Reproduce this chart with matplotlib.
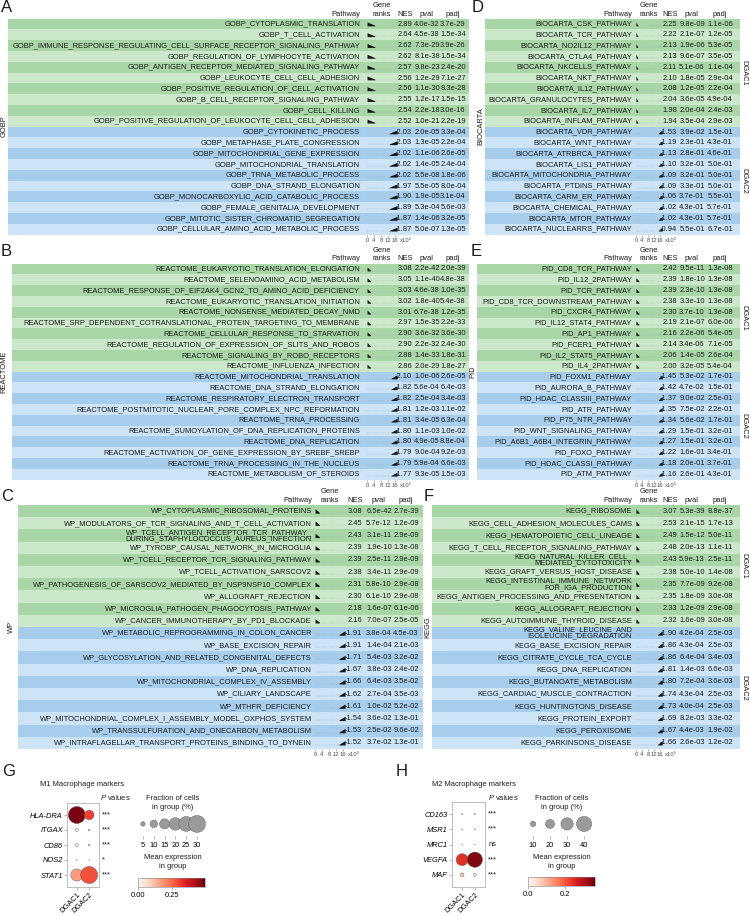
import numpy as np
import matplotlib
matplotlib.use("Agg")
import matplotlib.pyplot as plt
from matplotlib import cm, colors as mcolors

plt.rcParams['font.family'] = ['Liberation Sans', 'DejaVu Sans']
plt.rcParams['mathtext.fontset'] = 'custom'
plt.rcParams['mathtext.it'] = 'Liberation Sans:italic'
plt.rcParams['text.color'] = '#1a1a1a'

# ---------------- data: GSEA tables ----------------
gobp_names = ["GOBP_CYTOPLASMIC_TRANSLATION", "GOBP_T_CELL_ACTIVATION",
              "GOBP_IMMUNE_RESPONSE_REGULATING_CELL_SURFACE_RECEPTOR_SIGNALING_PATHWAY",
              "GOBP_REGULATION_OF_LYMPHOCYTE_ACTIVATION", "GOBP_ANTIGEN_RECEPTOR_MEDIATED_SIGNALING_PATHWAY",
              "GOBP_LEUKOCYTE_CELL_CELL_ADHESION", "GOBP_POSITIVE_REGULATION_OF_CELL_ACTIVATION",
              "GOBP_B_CELL_RECEPTOR_SIGNALING_PATHWAY", "GOBP_CELL_KILLING",
              "GOBP_POSITIVE_REGULATION_OF_LEUKOCYTE_CELL_CELL_ADHESION", "GOBP_CYTOKINETIC_PROCESS",
              "GOBP_METAPHASE_PLATE_CONGRESSION", "GOBP_MITOCHONDRIAL_GENE_EXPRESSION",
              "GOBP_MITOCHONDRIAL_TRANSLATION", "GOBP_TRNA_METABOLIC_PROCESS", "GOBP_DNA_STRAND_ELONGATION",
              "GOBP_MONOCARBOXYLIC_ACID_CATABOLIC_PROCESS", "GOBP_FEMALE_GENITALIA_DEVELOPMENT",
              "GOBP_MITOTIC_SISTER_CHROMATID_SEGREGATION", "GOBP_CELLULAR_AMINO_ACID_METABOLIC_PROCESS"]
gobp_nes = [2.89, 2.64, 2.62, 2.62, 2.57, 2.56, 2.56, 2.55, 2.54, 2.52,
            -2.03, -2.03, -2.02, -2.02, -2.02, -1.97, -1.90, -1.89, -1.87, -1.87]
gobp_pval = [4.0e-32, 4.5e-38, 7.3e-29, 8.1e-38, 9.8e-23, 1.2e-29, 1.1e-30, 1.2e-17, 2.2e-18, 1.0e-21,
             2.0e-05, 1.3e-05, 1.1e-06, 1.4e-05, 5.5e-08, 5.5e-05, 1.9e-05, 5.3e-04, 1.4e-06, 5.0e-07]
gobp_padj = [3.7e-29, 1.5e-34, 3.9e-26, 1.5e-34, 2.4e-20, 7.1e-27, 8.3e-28, 1.5e-15, 3.0e-16, 2.2e-19,
             3.3e-04, 2.2e-04, 2.6e-05, 2.4e-04, 1.8e-06, 8.0e-04, 3.1e-04, 5.6e-03, 3.2e-05, 1.3e-05]

react_names = ["REACTOME_EUKARYOTIC_TRANSLATION_ELONGATION", "REACTOME_SELENOAMINO_ACID_METABOLISM",
               "REACTOME_RESPONSE_OF_EIF2AK4_GCN2_TO_AMINO_ACID_DEFICIENCY",
               "REACTOME_EUKARYOTIC_TRANSLATION_INITIATION", "REACTOME_NONSENSE_MEDIATED_DECAY_NMD",
               "REACTOME_SRP_DEPENDENT_COTRANSLATIONAL_PROTEIN_TARGETING_TO_MEMBRANE",
               "REACTOME_CELLULAR_RESPONSE_TO_STARVATION", "REACTOME_REGULATION_OF_EXPRESSION_OF_SLITS_AND_ROBOS",
               "REACTOME_SIGNALING_BY_ROBO_RECEPTORS", "REACTOME_INFLUENZA_INFECTION",
               "REACTOME_MITOCHONDRIAL_TRANSLATION", "REACTOME_DNA_STRAND_ELONGATION",
               "REACTOME_RESPIRATORY_ELECTRON_TRANSPORT", "REACTOME_POSTMITOTIC_NUCLEAR_PORE_COMPLEX_NPC_REFORMATION",
               "REACTOME_TRNA_PROCESSING", "REACTOME_SUMOYLATION_OF_DNA_REPLICATION_PROTEINS",
               "REACTOME_DNA_REPLICATION", "REACTOME_ACTIVATION_OF_GENE_EXPRESSION_BY_SREBF_SREBP",
               "REACTOME_TRNA_PROCESSING_IN_THE_NUCLEUS", "REACTOME_METABOLISM_OF_STEROIDS"]
react_nes = [3.08, 3.05, 3.03, 3.02, 3.01, 2.97, 2.90, 2.90, 2.88, 2.86,
             -2.10, -1.82, -1.82, -1.81, -1.81, -1.80, -1.80, -1.79, -1.79, -1.77]
react_pval = [2.2e-42, 1.1e-40, 4.6e-38, 1.8e-40, 6.7e-38, 1.5e-35, 3.6e-32, 2.2e-32, 1.4e-33, 2.0e-29,
              1.0e-06, 5.6e-04, 2.5e-04, 1.2e-03, 3.4e-05, 1.1e-03, 4.9e-05, 9.0e-04, 5.9e-04, 9.3e-05]
react_padj = [2.0e-39, 4.8e-38, 1.0e-35, 5.4e-38, 1.2e-35, 2.2e-33, 3.6e-30, 2.4e-30, 1.8e-31, 1.8e-27,
              2.6e-05, 6.4e-03, 3.4e-03, 1.1e-02, 6.3e-04, 1.0e-02, 8.8e-04, 9.2e-03, 6.6e-03, 1.5e-03]

wp_names = ["WP_CYTOPLASMIC_RIBOSOMAL_PROTEINS", "WP_MODULATORS_OF_TCR_SIGNALING_AND_T_CELL_ACTIVATION",
            "WP_TCELL_ANTIGEN_RECEPTOR_TCR_PATHWAY_\nDURING_STAPHYLOCOCCUS_AUREUS_INFECTION",
            "WP_TYROBP_CAUSAL_NETWORK_IN_MICROGLIA", "WP_TCELL_RECEPTOR_TCR_SIGNALING_PATHWAY",
            "WP_TCELL_ACTIVATION_SARSCOV2", "WP_PATHOGENESIS_OF_SARSCOV2_MEDIATED_BY_NSP9NSP10_COMPLEX",
            "WP_ALLOGRAFT_REJECTION", "WP_MICROGLIA_PATHOGEN_PHAGOCYTOSIS_PATHWAY",
            "WP_CANCER_IMMUNOTHERAPY_BY_PD1_BLOCKADE", "WP_METABOLIC_REPROGRAMMING_IN_COLON_CANCER",
            "WP_BASE_EXCISION_REPAIR", "WP_GLYCOSYLATION_AND_RELATED_CONGENITAL_DEFECTS", "WP_DNA_REPLICATION",
            "WP_MITOCHONDRIAL_COMPLEX_IV_ASSEMBLY", "WP_CILIARY_LANDSCAPE", "WP_MTHFR_DEFICIENCY",
            "WP_MITOCHONDRIAL_COMPLEX_I_ASSEMBLY_MODEL_OXPHOS_SYSTEM",
            "WP_TRANSSULFURATION_AND_ONECARBON_METABOLISM",
            "WP_INTRAFLAGELLAR_TRANSPORT_PROTEINS_BINDING_TO_DYNEIN"]
wp_nes = [3.08, 2.45, 2.43, 2.39, 2.39, 2.38, 2.31, 2.30, 2.18, 2.16,
          -1.91, -1.91, -1.71, -1.67, -1.66, -1.62, -1.61, -1.54, -1.53, -1.52]
wp_pval = [6.5e-42, 5.7e-12, 3.1e-11, 1.9e-10, 2.5e-11, 3.4e-11, 5.8e-10, 6.1e-10, 1.6e-07, 7.0e-07,
           3.8e-04, 1.4e-04, 5.4e-03, 3.8e-03, 6.4e-03, 2.7e-04, 1.0e-02, 3.6e-02, 2.5e-02, 3.7e-02]
wp_padj = [2.7e-39, 1.2e-09, 2.9e-09, 1.3e-08, 2.9e-09, 2.9e-09, 2.9e-08, 2.9e-08, 6.1e-06, 2.5e-05,
           4.5e-03, 2.1e-03, 3.2e-02, 2.4e-02, 3.5e-02, 3.5e-03, 5.2e-02, 1.3e-01, 9.6e-02, 1.3e-01]

bioc_names = ["BIOCARTA_CSK_PATHWAY", "BIOCARTA_TCR_PATHWAY", "BIOCARTA_NO2IL12_PATHWAY",
              "BIOCARTA_CTLA4_PATHWAY", "BIOCARTA_NKCELLS_PATHWAY", "BIOCARTA_NKT_PATHWAY",
              "BIOCARTA_IL12_PATHWAY", "BIOCARTA_GRANULOCYTES_PATHWAY", "BIOCARTA_IL7_PATHWAY",
              "BIOCARTA_INFLAM_PATHWAY", "BIOCARTA_VDR_PATHWAY", "BIOCARTA_WNT_PATHWAY",
              "BIOCARTA_ATRBRCA_PATHWAY", "BIOCARTA_LIS1_PATHWAY", "BIOCARTA_MITOCHONDRIA_PATHWAY",
              "BIOCARTA_PTDINS_PATHWAY", "BIOCARTA_CARM_ER_PATHWAY", "BIOCARTA_CHEMICAL_PATHWAY",
              "BIOCARTA_MTOR_PATHWAY", "BIOCARTA_NUCLEARRS_PATHWAY"]
bioc_nes = [2.25, 2.22, 2.13, 2.13, 2.11, 2.10, 2.08, 2.04, 1.98, 1.94,
            -1.53, -1.19, -1.13, -1.10, -1.09, -1.09, -1.06, -1.02, -1.02, -0.94]
bioc_pval = [9.8e-09, 2.1e-07, 1.9e-06, 9.6e-07, 5.1e-06, 1.8e-05, 1.2e-05, 3.6e-05, 2.0e-04, 3.5e-04,
             3.9e-02, 2.3e-01, 2.8e-01, 3.2e-01, 3.2e-01, 3.3e-01, 3.7e-01, 4.3e-01, 4.3e-01, 5.5e-01]
bioc_padj = [1.1e-06, 1.2e-05, 5.3e-05, 3.5e-05, 1.1e-04, 2.9e-04, 2.2e-04, 4.9e-04, 2.4e-03, 2.9e-03,
             1.5e-01, 4.3e-01, 4.6e-01, 5.0e-01, 5.0e-01, 5.0e-01, 5.5e-01, 5.7e-01, 5.7e-01, 6.7e-01]

pid_names = ["PID_CD8_TCR_PATHWAY", "PID_IL12_2PATHWAY", "PID_TCR_PATHWAY", "PID_CD8_TCR_DOWNSTREAM_PATHWAY",
             "PID_CXCR4_PATHWAY", "PID_IL12_STAT4_PATHWAY", "PID_AP1_PATHWAY", "PID_FCER1_PATHWAY",
             "PID_IL2_STAT5_PATHWAY", "PID_IL4_2PATHWAY", "PID_FOXM1_PATHWAY", "PID_AURORA_B_PATHWAY",
             "PID_HDAC_CLASSIII_PATHWAY", "PID_ATR_PATHWAY", "PID_P75_NTR_PATHWAY", "PID_WNT_SIGNALING_PATHWAY",
             "PID_A6B1_A6B4_INTEGRIN_PATHWAY", "PID_FOXO_PATHWAY", "PID_HDAC_CLASSI_PATHWAY", "PID_ATM_PATHWAY"]
pid_nes = [2.42, 2.39, 2.39, 2.38, 2.30, 2.19, 2.16, 2.14, 2.06, 2.00,
           -1.45, -1.42, -1.37, -1.35, -1.34, -1.29, -1.27, -1.22, -1.18, -1.16]
pid_pval = [9.5e-11, 1.8e-10, 2.3e-10, 3.3e-10, 3.7e-10, 2.1e-07, 2.2e-06, 3.4e-06, 1.4e-05, 3.2e-05,
            5.3e-02, 4.7e-02, 9.0e-02, 7.5e-02, 5.6e-02, 1.5e-01, 1.5e-01, 1.6e-01, 2.0e-01, 2.6e-01]
pid_padj = [1.3e-08, 1.3e-08, 1.3e-08, 1.3e-08, 1.3e-08, 6.0e-06, 5.4e-05, 7.1e-05, 2.6e-04, 5.4e-04,
            1.7e-01, 1.5e-01, 2.5e-01, 2.2e-01, 1.7e-01, 3.2e-01, 3.2e-01, 3.4e-01, 3.7e-01, 4.3e-01]

kegg_names = ["KEGG_RIBOSOME", "KEGG_CELL_ADHESION_MOLECULES_CAMS", "KEGG_HEMATOPOIETIC_CELL_LINEAGE",
              "KEGG_T_CELL_RECEPTOR_SIGNALING_PATHWAY", "KEGG_NATURAL_KILLER_CELL_\nMEDIATED_CYTOTOXICITY",
              "KEGG_GRAFT_VERSUS_HOST_DISEASE", "KEGG_INTESTINAL_IMMUNE_NETWORK\nFOR_IGA_PRODUCTION",
              "KEGG_ANTIGEN_PROCESSING_AND_PRESENTATION", "KEGG_ALLOGRAFT_REJECTION",
              "KEGG_AUTOIMMUNE_THYROID_DISEASE", "KEGG_VALINE_LEUCINE_AND\nISOLEUCINE_DEGRADATION",
              "KEGG_BASE_EXCISION_REPAIR", "KEGG_CITRATE_CYCLE_TCA_CYCLE", "KEGG_DNA_REPLICATION",
              "KEGG_BUTANOATE_METABOLISM", "KEGG_CARDIAC_MUSCLE_CONTRACTION", "KEGG_HUNTINGTONS_DISEASE",
              "KEGG_PROTEIN_EXPORT", "KEGG_PEROXISOME", "KEGG_PARKINSONS_DISEASE"]
kegg_nes = [3.07, 2.53, 2.49, 2.48, 2.43, 2.38, 2.35, 2.35, 2.33, 2.32,
            -1.90, -1.86, -1.86, -1.81, -1.80, -1.74, -1.73, -1.69, -1.67, -1.66]
kegg_pval = [5.3e-39, 2.1e-15, 1.5e-12, 2.0e-13, 5.9e-13, 5.0e-10, 7.7e-09, 1.8e-09, 1.2e-09, 1.6e-09,
             4.2e-04, 4.3e-04, 6.4e-04, 1.4e-03, 7.2e-04, 4.3e-04, 4.0e-04, 8.2e-03, 4.4e-03, 2.6e-03]
kegg_padj = [8.8e-37, 1.7e-13, 5.0e-11, 1.1e-11, 2.5e-11, 1.4e-08, 9.2e-08, 3.0e-08, 2.9e-08, 3.0e-08,
             2.5e-03, 2.5e-03, 3.4e-03, 6.6e-03, 3.6e-03, 2.5e-03, 2.5e-03, 3.3e-02, 1.9e-02, 1.2e-02]

# ---------------- data: dot plots ----------------
groups = ["DGAC1", "DGAC2"]
m1_genes = ["HLA-DRA", "ITGAX", "CD86", "NOS2", "STAT1"]
m1_frac = [[31, 14], [3, 1.5], [3, 1.5], [0.5, 0.5], [19, 30]]
m1_expr = [[0.47, 0.30], [0.02, 0.01], [0.02, 0.01], [0.0, 0.0], [0.17, 0.28]]
m1_p = ["***", "***", "***", "*", "***"]
m1_legend = [5, 10, 15, 20, 25, 30]

m2_genes = ["CD163", "MSR1", "MRC1", "VEGFA", "MAF"]
m2_frac = [[1.5, 1.5], [1, 1], [0.5, 0.5], [29, 41], [6, 4]]
m2_expr = [[0.01, 0.01], [0.005, 0.005], [0.0, 0.0], [0.24, 0.34], [0.08, 0.02]]
m2_p = ["***", "***", "ns", "***", "***"]
m2_legend = [10, 20, 30, 40]

# ---------------- layout helpers (pixel units) ----------------
W, H = 749, 916
fig = plt.figure(figsize=(W / 100, H / 100), dpi=100)
FS = 5.4
GREENS = ['#a8d6a7', '#cce8ca']
BLUES = ['#a6ceec', '#cce4f6']


def rect(x0, y0, x1, y1):
    return [x0 / W, 1 - y1 / H, (x1 - x0) / W, (y1 - y0) / H]


def ftext(x, y, s, **kw):
    kw.setdefault('fontsize', FS)
    fig.text(x / W, 1 - y / H, s, **kw)


def gsea_panel(letter, letter_xy, db, names, nes, pval, padj, cols, top, pitch, db_x, right_labels, lead):
    bg0, name_x, gr0, gr1, nes_x, pv_x, pa_x, bg1 = cols
    nes = np.array(nes)
    n = len(names)
    bottom = top + n * pitch
    rows = np.arange(n)
    ax = fig.add_axes(rect(bg0, top, bg1, bottom))
    ax.set_xlim(bg0, bg1)
    ax.set_ylim(n - 0.5, -0.5)
    ax.axis('off')
    row_cols = [(GREENS if v > 0 else BLUES)[i % 2] for i, v in enumerate(nes)]
    ax.barh(rows, bg1 - bg0, left=bg0, height=1.0, color=row_cols, lw=0)
    for i in rows:
        ax.text(name_x, i, names[i], ha='right', va='center', fontsize=FS, linespacing=0.82)
        ax.text(nes_x, i, f'{nes[i]:.2f}', ha='right', va='center', fontsize=FS)
        ax.text(pv_x, i, f'{pval[i]:.1e}', ha='center', va='center', fontsize=FS)
        ax.text(pa_x, i, f'{padj[i]:.1e}', ha='center', va='center', fontsize=FS)

    # gene rank mini plots
    axg = fig.add_axes(rect(gr0, top, gr1, bottom))
    axg.set_xlim(-0.6, 17.8)
    axg.set_ylim(n - 0.5, -0.5)
    axg.patch.set_alpha(0)
    for s in axg.spines.values():
        s.set_visible(False)
    axg.set_yticks([])
    axg.set_xticks([0, 4, 8, 12, 16])
    axg.tick_params(axis='x', labelsize=4.2, length=1.5, width=0.4, color='0.45', pad=0.6,
                    labelcolor='0.3')
    lp, ln = lead
    for i in rows:
        axg.plot([0, 17.3], [i + 0.15, i + 0.15], color='0.5', lw=0.35, ls=(0, (0.6, 1.8)))
        if nes[i] > 0:
            xs = np.linspace(0, lp, 12)
            h = 0.3 * (1 - xs / lp)
        else:
            xs = np.linspace(17.3 - ln, 17.3, 12)
            h = 0.3 * (xs - (17.3 - ln)) / ln
        axg.fill_between(xs, i + 0.17, i + 0.17 - h - 0.06, color='#111111', lw=0)
    ftext(gr1 + 2, bottom + 5.6, 'x10³', ha='left', va='center', fontsize=4.2, color='0.3')

    # headers
    ftext(name_x, top - 4.6, 'Pathway', ha='right', va='center')
    ftext((gr0 + gr1) / 2, top - 13.4, 'Gene', ha='center', va='center')
    ftext((gr0 + gr1) / 2, top - 4.6, 'ranks', ha='center', va='center')
    ftext(nes_x - 7, top - 4.6, 'NES', ha='center', va='center')
    ftext(pv_x, top - 4.6, 'pval', ha='center', va='center')
    ftext(pa_x, top - 4.6, 'padj', ha='center', va='center')
    ftext(letter_xy[0], letter_xy[1], letter, fontsize=12, ha='left', va='center')
    ftext(db_x, (top + bottom) / 2, db, rotation=90, ha='center', va='center')
    if right_labels:
        npos = int((nes > 0).sum())
        ftext(744, top + npos * pitch / 2, 'DGAC1', rotation=270, ha='center', va='center')
        ftext(744, top + npos * pitch + (n - npos) * pitch / 2, 'DGAC2', rotation=270,
              ha='center', va='center')


LEFT_AB = (8, 360, 366, 398, 412, 427, 453, 469)
LEFT_C = (18, 312, 314, 346, 362, 379, 406, 423)
RIGHT = (632, 635, 663, 677, 692, 720, 740)

gsea_panel('A', (1, 8), 'GOBP', gobp_names, gobp_nes, gobp_pval, gobp_padj,
           LEFT_AB, 18.6, 10.8, 4, False, (4.5, 4.5))
gsea_panel('B', (1, 251), 'REACTOME', react_names, react_nes, react_pval, react_padj,
           (12,) + LEFT_AB[1:], 263.6, 10.8, 4, False, (2.0, 3.5))
gsea_panel('C', (1, 496), 'WP', wp_names, wp_nes, wp_pval, wp_padj,
           LEFT_C, 505.0, 12.2, 11, False, (2.5, 3.5))
gsea_panel('D', (472, 8), 'BIOCARTA', bioc_names, bioc_nes, bioc_pval, bioc_padj,
           (485,) + RIGHT, 18.6, 10.8, 481, True, (1.2, 2.5))
gsea_panel('E', (471, 252), 'PID', pid_names, pid_nes, pid_pval, pid_padj,
           (477,) + RIGHT, 263.6, 10.8, 473, True, (2.0, 2.5))
gsea_panel('F', (424, 496), 'KEGG', kegg_names, kegg_nes, kegg_pval, kegg_padj,
           (432,) + RIGHT, 505.0, 12.2, 428, True, (2.0, 3.0))


# ---------------- dot plots ----------------
def dotplot(letter, letter_xy, title, title_xy, genes, frac, expr, pv, leg_vals, vmax, cticks, ctlabels,
            box, pv_xy, leg_cx, leg_box, leg_xlim, cbar_box, smax):
    frac = np.array(frac, dtype=float)
    expr = np.array(expr, dtype=float)
    dot_max = max(leg_vals)
    norm = mcolors.Normalize(0, vmax)
    cmap = plt.get_cmap('Reds')

    ax = fig.add_axes(rect(*box))
    xx, yy = np.meshgrid(np.arange(len(groups)), np.arange(len(genes)))
    sizes = np.clip(frac / dot_max, 0, 1) ** 1.5 * smax
    ax.scatter(xx.ravel(), yy.ravel(), s=sizes.ravel(), c=expr.ravel(), cmap=cmap, norm=norm,
               edgecolors='0.35', linewidths=0.3, zorder=3)
    ax.set_xlim(-0.8, 1.8)
    ax.set_ylim(len(genes) - 0.2, -0.8)
    ax.set_yticks(range(len(genes)))
    ax.set_yticklabels(genes, fontstyle='italic', fontsize=FS)
    ax.set_xticks(range(len(groups)))
    ax.set_xticklabels(groups, rotation=45, ha='right', rotation_mode='anchor', fontsize=FS)
    ax.tick_params(length=2, width=0.4, color='0.5', pad=1)
    for s in ax.spines.values():
        s.set_color('0.7')
        s.set_linewidth(0.6)
    for i, p in enumerate(pv):
        ax.text(1.1, i, p, transform=ax.get_yaxis_transform(), ha='left', va='center', fontsize=FS)

    ftext(letter_xy[0], letter_xy[1], letter, fontsize=12, ha='left', va='center')
    ftext(title_xy[0], title_xy[1], title, ha='left', va='center')
    ftext(pv_xy[0], pv_xy[1], '$\\it{P}$ values', ha='left', va='center')
    ftext(leg_cx, 803, 'Fraction of cells\nin group (%)', ha='center', va='center', linespacing=1.3)
    ftext(leg_cx, 862, 'Mean expression\nin group', ha='center', va='center', linespacing=1.3)

    # size legend
    axl = fig.add_axes(rect(*leg_box))
    lv = np.array(leg_vals, dtype=float)
    axl.scatter(np.arange(len(lv)), np.full(len(lv), 0.55), s=(lv / dot_max) ** 1.5 * smax,
                color='#9a9a9a', edgecolors='0.35', linewidths=0.3, clip_on=False)
    axl.set_xlim(*leg_xlim)
    axl.set_ylim(0, 1)
    axl.set_xticks(np.arange(len(lv)))
    axl.set_xticklabels([str(v) for v in leg_vals], fontsize=FS)
    axl.set_yticks([])
    axl.tick_params(length=2.5, width=0.4, color='0.5', pad=1.5)
    for s in axl.spines.values():
        s.set_visible(False)

    # colorbar
    axc = fig.add_axes(rect(*cbar_box))
    cb = fig.colorbar(cm.ScalarMappable(norm=norm, cmap=cmap), cax=axc, orientation='horizontal')
    cb.set_ticks(cticks)
    cb.set_ticklabels(ctlabels)
    cb.outline.set_linewidth(0.4)
    cb.outline.set_edgecolor('0.5')
    axc.tick_params(labelsize=FS, length=2, width=0.4, color='0.5', pad=1.5)


dotplot('G', (2, 772), 'M1 Macrophage markers', (40, 785), m1_genes, m1_frac, m1_expr, m1_p, m1_legend,
        0.49, [0, 0.25], ['0.00', '0.25'], (67, 803, 99, 887), (100, 798), 173,
        (135, 814, 205, 836), (-0.74, 5.74), (138, 878, 205, 887), 150)
dotplot('H', (396, 772), 'M2 Macrophage markers', (432, 785), m2_genes, m2_frac, m2_expr, m2_p, m2_legend,
        0.36, [0, 0.2], ['0.0', '0.2'], (452, 802, 485, 887), (488, 798), 562,
        (522, 814, 596, 836), (-0.65, 3.7), (528, 877, 595, 886), 120)

fig.savefig('out.png', dpi=100)
